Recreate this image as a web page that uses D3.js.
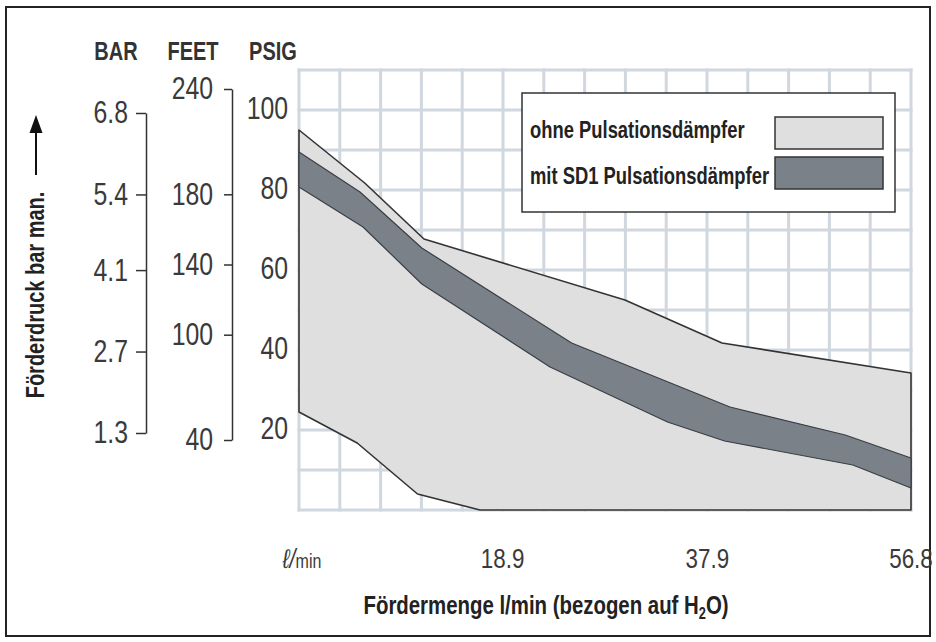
<!DOCTYPE html>
<html>
<head>
<meta charset="utf-8">
<script src="https://cdn.jsdelivr.net/npm/d3@7"></script>
<style>
  body { margin: 0; background: #fff; }
  svg text { font-family: 'Liberation Sans', Arial, sans-serif; }
</style>
</head>
<body>
<div id="chart"></div>
<script>
// flow in l/min, pressure in psig
var flowTicks = [0, 18.9, 37.9, 56.8];
var flowLabels = ["ℓ/", "18.9", "37.9", "56.8"];
var psigTicks = [20, 40, 60, 80, 100];
var feetTicks = [40, 100, 140, 180, 240];
var barTicks = [1.3, 2.7, 4.1, 5.4, 6.8];

var ohneTop = [[0, 95], [6.1, 81.75], [11.6, 67.75], [30.25, 52.5], [39.26, 41.75], [56.8, 34.25]];
var ohneBottom = [[0, 24.5], [5.4, 16.75], [11.0, 4], [16.8, 0], [56.8, 0]];
var mitTop = [[0, 89.5], [5.66, 79.5], [11.4, 65.5], [25.3, 41.75], [40.0, 25.75], [50.7, 18.75], [56.8, 13]];
var mitBottom = [[0, 80.75], [5.94, 70.75], [11.4, 56.5], [23.3, 35.75], [34.2, 22], [39.5, 17.25], [51.4, 11.25], [56.8, 5.5]];

var legendLabels = ["ohne Pulsationsdämpfer", "mit SD1 Pulsationsdämpfer"];
var colors = ["#dfdfdf", "#7a8189"];

var width = 936, height = 642;
var SX = 0.8; // condensed look

var svg = d3.select("#chart").append("svg")
    .attr("width", width)
    .attr("height", height);

// put a text at px,py squeezed horizontally
function place(sel, px, py, extra) {
    sel.attr("transform", "translate(" + px + "," + py + ")" + (extra || "") + " scale(" + SX + ",1)");
}

// outer frame
svg.append("rect")
    .attr("x", 6).attr("y", 7)
    .attr("width", 924).attr("height", 629)
    .attr("fill", "#fff")
    .attr("stroke", "#222")
    .attr("stroke-width", 2);

var x = d3.scaleLinear().domain([0, 56.8]).range([299, 911]);
var y = d3.scaleLinear().domain([0, 110]).range([510, 70]);
var yFeet = d3.scaleLinear().domain([40, 240]).range([440, 89]);
var yBar = d3.scaleLinear().domain([1.3, 6.8]).range([433, 113]);

// grid
var grid = svg.append("g").attr("stroke", "#d0d7df").attr("stroke-width", 3);
grid.selectAll("line.v")
    .data(d3.range(16).map(function(i) { return i * 56.8 / 15; }))
    .enter().append("line")
    .attr("x1", function(d) { return x(d); })
    .attr("x2", function(d) { return x(d); })
    .attr("y1", y(110) - 1.5).attr("y2", y(0) + 1.5);
grid.selectAll("line.h")
    .data(d3.range(12).map(function(i) { return i * 10; }))
    .enter().append("line")
    .attr("y1", function(d) { return y(d); })
    .attr("y2", function(d) { return y(d); })
    .attr("x1", x(0) - 1.5).attr("x2", x(56.8) + 1.5);

var line = d3.line()
    .x(function(d) { return x(d[0]); })
    .y(function(d) { return y(d[1]); });

function band(top, bottom) {
    return line(top.concat(bottom.slice().reverse())) + "Z";
}

svg.append("path")
    .attr("d", band(ohneTop, ohneBottom))
    .attr("fill", colors[0])
    .attr("stroke", "#333")
    .attr("stroke-width", 1.6)
    .attr("stroke-linejoin", "round");

svg.append("path")
    .attr("d", band(mitTop, mitBottom))
    .attr("fill", colors[1])
    .attr("stroke", "#3a3f44")
    .attr("stroke-width", 1.2)
    .attr("stroke-linejoin", "round");

// legend
var lg = svg.append("g");
lg.append("rect")
    .attr("x", 522).attr("y", 93)
    .attr("width", 373).attr("height", 119)
    .attr("fill", "#fff")
    .attr("stroke", "#333")
    .attr("stroke-width", 1.5);
legendLabels.forEach(function(lab, i) {
    lg.append("rect")
        .attr("x", 775).attr("y", 117 + i * 40)
        .attr("width", 108).attr("height", 32)
        .attr("fill", colors[i])
        .attr("stroke", "#333")
        .attr("stroke-width", 1.5);
    lg.append("text")
        .call(place, 530, 138 + i * 46)
        .attr("font-size", 23)
        .attr("font-weight", "bold")
        .attr("fill", "#222")
        .text(lab);
});

// psig labels (no axis line)
svg.append("g").selectAll("text")
    .data(psigTicks)
    .enter().append("text")
    .each(function(d) { d3.select(this).call(place, 288, y(d) - 2); })
    .attr("dy", "0.35em")
    .attr("text-anchor", "end")
    .attr("font-size", 31)
    .attr("fill", "#3a3a3a")
    .text(function(d) { return d; });

function styleAxis(g, off) {
    g.select(".domain").attr("stroke", "#333").attr("stroke-width", 1.5);
    g.selectAll(".tick line").attr("stroke", "#333").attr("stroke-width", 1.5);
    g.selectAll(".tick text")
        .attr("x", -off / SX)
        .attr("transform", "scale(" + SX + ",1)")
        .attr("font-size", 31)
        .attr("fill", "#3a3a3a")
        .style("font-family", "'Liberation Sans', Arial, sans-serif");
}

svg.append("g")
    .attr("transform", "translate(232,0)")
    .call(d3.axisLeft(yFeet).tickValues(feetTicks).tickSize(8).tickSizeOuter(0)
        .tickFormat(d3.format("d")))
    .call(styleAxis, 19);

svg.append("g")
    .attr("transform", "translate(146,0)")
    .call(d3.axisLeft(yBar).tickValues(barTicks).tickSize(10).tickSizeOuter(0)
        .tickFormat(d3.format(".1f")))
    .call(styleAxis, 18);

// column headers
var heads = [["BAR", 116], ["FEET", 193], ["PSIG", 273]];
svg.selectAll("text.head")
    .data(heads)
    .enter().append("text")
    .attr("class", "head")
    .each(function(d) { d3.select(this).call(place, d[1], 60); })
    .attr("text-anchor", "middle")
    .attr("font-size", 25)
    .attr("font-weight", "bold")
    .attr("fill", "#333")
    .text(function(d) { return d[0]; });

// x labels
svg.append("g").selectAll("text")
    .data(flowTicks)
    .enter().append("text")
    .each(function(d, i) {
        var t = d3.select(this);
        if (i === 0) {
            t.call(place, x(d) + 3, 568);
            t.append("tspan").attr("font-style", "italic").attr("font-size", 27).text(flowLabels[i]);
            t.append("tspan").attr("font-size", 20).text("min");
        } else {
            t.call(place, x(d), 568);
            t.text(flowLabels[i]);
        }
    })
    .attr("text-anchor", "middle")
    .attr("font-size", 28)
    .attr("fill", "#3a3a3a");

// x title
var xt = svg.append("text")
    .call(place, 546, 614)
    .attr("text-anchor", "middle")
    .attr("font-size", 25.5)
    .attr("font-weight", "bold")
    .attr("fill", "#222");
xt.append("tspan").text("Fördermenge l/min (bezogen auf H");
xt.append("tspan").attr("font-size", 16).attr("dy", 5).text("2");
xt.append("tspan").attr("dy", -5).text("O)");

// y title with arrow
svg.append("text")
    .call(place, 44, 295, " rotate(-90)")
    .attr("text-anchor", "middle")
    .attr("font-size", 25)
    .attr("font-weight", "bold")
    .attr("fill", "#222")
    .text("Förderdruck bar man.");

svg.append("line")
    .attr("x1", 36).attr("x2", 36)
    .attr("y1", 175).attr("y2", 130)
    .attr("stroke", "#111").attr("stroke-width", 2);
svg.append("path")
    .attr("d", "M36,115L42.5,133L29.5,133Z")
    .attr("fill", "#111");
</script>
</body>
</html>
